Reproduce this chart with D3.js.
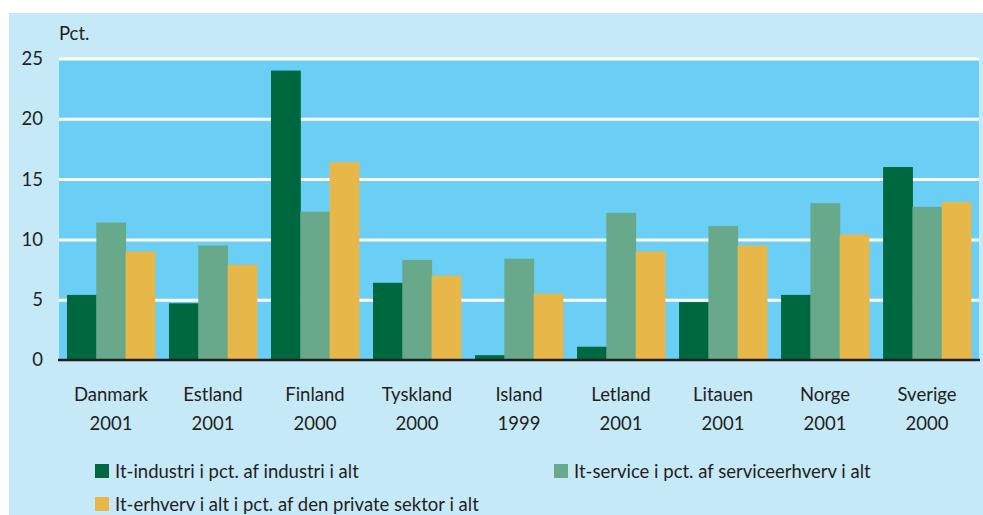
<!DOCTYPE html>
<html>
<head>
<meta charset="utf-8">
<script src="https://cdn.jsdelivr.net/npm/d3@7"></script>
<style>
  body { margin: 0; background: #ffffff; }
  svg text { font-family: Lato, "Open Sans", sans-serif; fill: #231f20; }
</style>
</head>
<body>
<div class="chartdiv"></div>
<script>
// data
var countries = ["Danmark", "Estland", "Finland", "Tyskland", "Island", "Letland", "Litauen", "Norge", "Sverige"];
var years = ["2001", "2001", "2000", "2000", "1999", "2001", "2001", "2001", "2000"];
var seriesNames = ["It-industri i pct. af industri i alt",
    "It-service i pct. af serviceerhverv i alt",
    "It-erhverv i alt i pct. af den private sektor i alt"];
var itIndustri = [5.4, 4.7, 24.0, 6.4, 0.4, 1.1, 4.8, 5.4, 16.0];
var itService = [11.4, 9.5, 12.3, 8.3, 8.4, 12.2, 11.1, 13.0, 12.7];
var itErhverv = [9.0, 7.9, 16.4, 7.0, 5.5, 9.0, 9.5, 10.4, 13.1];
var yTicks = [0, 5, 10, 15, 20, 25];

var colors = ["#00683f", "#67a98a", "#e8b74a"];

var width = 983, height = 515;
var plotLeft = 59, plotRight = 979, plotTop = 58.5, plotBottom = 360;
var fontSize = "18.5px";

var svg = d3.select("div.chartdiv")
    .append("svg")
    .attr("width", width)
    .attr("height", height);

// outer light blue panel
svg.append("rect")
    .attr("x", 9).attr("y", 13)
    .attr("width", width - 9).attr("height", height - 13)
    .style("fill", "#c6e9f8");

var x = d3.scaleBand()
    .domain(countries)
    .range([plotLeft, plotRight])
    .paddingInner(0.138)
    .paddingOuter(0.078);

var xSub = d3.scaleBand()
    .domain(d3.range(seriesNames.length))
    .range([0, x.bandwidth()]);

var y = d3.scaleLinear()
    .domain([0, 25])
    .range([plotBottom, plotTop]);

// plot background
svg.append("rect")
    .attr("x", plotLeft).attr("y", y(25))
    .attr("width", plotRight - plotLeft).attr("height", y(0) - y(25))
    .style("fill", "#6bcff5");

// gridlines + y labels
var yAxis = svg.append("g")
    .attr("class", "yaxis")
    .attr("transform", "translate(" + plotLeft + ",0)")
    .call(d3.axisLeft(y).tickValues(yTicks).tickSizeInner(-(plotRight - plotLeft)).tickSizeOuter(0).tickPadding(16));
yAxis.select(".domain").remove();
yAxis.selectAll("line")
    .style("stroke", "#ffffff")
    .style("stroke-width", 3)
    .style("opacity", function(d) { return d === 0 ? 0 : 1; });
yAxis.selectAll("text")
    .style("font-size", fontSize);

svg.append("text")
    .attr("x", plotLeft)
    .attr("y", 40)
    .style("font-size", fontSize)
    .text("Pct.");

// bars
var allSeries = [itIndustri, itService, itErhverv];
var groups = svg.selectAll(".group")
    .data(countries)
    .enter()
    .append("g")
    .attr("class", "group")
    .attr("transform", function(d) { return "translate(" + x(d) + ",0)"; });

groups.selectAll("rect")
    .data(function(d, i) {
        return allSeries.map(function(s, k) { return {k: k, v: s[i]}; });
    })
    .enter()
    .append("rect")
    .attr("x", function(d) { return xSub(d.k); })
    .attr("width", xSub.bandwidth() + 0.5)
    .attr("y", function(d) { return y(d.v); })
    .attr("height", function(d) { return y(0) - y(d.v); })
    .style("fill", function(d) { return colors[d.k]; });

// zero axis line
svg.append("line")
    .attr("x1", plotLeft - 1).attr("x2", plotRight + 1)
    .attr("y1", y(0)).attr("y2", y(0))
    .style("stroke", "#231f20")
    .style("stroke-width", 2.5);

// category labels
var labels = svg.selectAll(".catlabel")
    .data(countries)
    .enter()
    .append("text")
    .attr("class", "catlabel")
    .attr("text-anchor", "middle")
    .style("font-size", fontSize);
labels.append("tspan")
    .attr("x", function(d) { return x(d) + x.bandwidth() / 2; })
    .attr("y", 401)
    .text(function(d) { return d; });
labels.append("tspan")
    .attr("x", function(d) { return x(d) + x.bandwidth() / 2; })
    .attr("y", 430)
    .text(function(d, i) { return years[i]; });

// legend
var legendPos = [[95, 464], [554, 464], [95, 497]];
var legend = svg.selectAll(".legend")
    .data(seriesNames)
    .enter()
    .append("g")
    .attr("class", "legend")
    .attr("transform", function(d, i) { return "translate(" + legendPos[i][0] + "," + legendPos[i][1] + ")"; });
legend.append("rect")
    .attr("width", 14).attr("height", 14)
    .style("fill", function(d, i) { return colors[i]; });
legend.append("text")
    .attr("x", 20)
    .attr("y", 13.5)
    .style("font-size", fontSize)
    .text(function(d) { return d; });
</script>
</body>
</html>
